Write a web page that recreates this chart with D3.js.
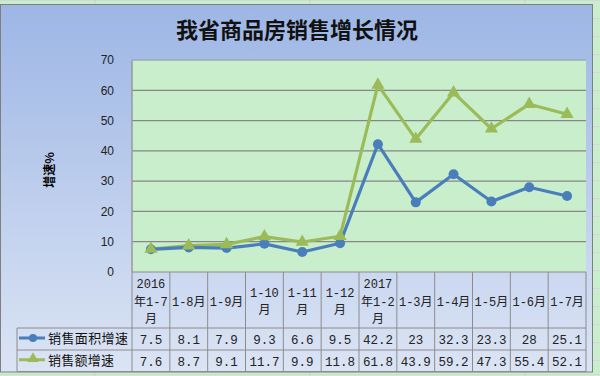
<!DOCTYPE html>
<html><head><meta charset="utf-8">
<script src="https://cdn.jsdelivr.net/npm/d3@7"></script>
<style>body{margin:0;background:#c9eecd;}svg{display:block}</style>
</head><body>
<svg id="c" width="600" height="376"></svg>
<script>
const categories = ["2016\n年1-7\n月","1-8月","1-9月","1-10\n月","1-11\n月","1-12\n月","2017\n年1-2\n月","1-3月","1-4月","1-5月","1-6月","1-7月"];
const areaGrowth = [7.5,8.1,7.9,9.3,6.6,9.5,42.2,23,32.3,23.3,28,25.1];
const salesGrowth = [7.6,8.7,9.1,11.7,9.9,11.8,61.8,43.9,59.2,47.3,55.4,52.1];
const areaLabels = ["7.5","8.1","7.9","9.3","6.6","9.5","42.2","23","32.3","23.3","28","25.1"];
const salesLabels = ["7.6","8.7","9.1","11.7","9.9","11.8","61.8","43.9","59.2","47.3","55.4","52.1"];
const seriesNames = ["销售面积增速","销售额增速"];
const yTicks = [0,10,20,30,40,50,60,70];
const title = "我省商品房销售增长情况";
const yTitle = "增速%";

const svg = d3.select("#c");
const L = 132, R = 586, T = 60, B = 272;
const cjk = "'Noto Sans CJK SC', sans-serif";
const mono = "'Liberation Mono', 'DejaVu Sans Mono', monospace";

// spreadsheet background grid
const bg = svg.append("g");
[0,18,36,54,72,90,108,126,144,162,180,198,216,234,252,270,288,306,324,342,360,374].forEach(y=>{
  bg.append("line").attr("x1",0).attr("x2",600).attr("y1",y+0.5).attr("y2",y+0.5).attr("stroke","#d9c9d6").attr("stroke-width",0.6);
});
[95,310,525].forEach(x=>bg.append("line").attr("x1",x).attr("x2",x).attr("y1",0).attr("y2",376).attr("stroke","#c8c8c8").attr("stroke-width",0.6));

// chart background gradient
const defs = svg.append("defs");
const grad = defs.append("linearGradient").attr("id","bgG").attr("x1",0).attr("y1",0).attr("x2",0).attr("y2",1);
grad.append("stop").attr("offset","0%").attr("stop-color","#9db6e5");
grad.append("stop").attr("offset","100%").attr("stop-color","#dbe4f4");
svg.append("rect").attr("x",0.5).attr("y",4.5).attr("width",592).attr("height",367.5)
  .attr("fill","url(#bgG)").attr("stroke","#7f7f7f").attr("stroke-width",1);

// title
svg.append("text").attr("x",297).attr("y",38).attr("text-anchor","middle")
  .attr("font-family",cjk).attr("font-size",22).attr("font-weight",700).attr("fill","#111").text(title);

// scales
const x = d3.scaleBand().domain(d3.range(categories.length)).range([L,R]);
const y = d3.scaleLinear().domain([0,70]).range([B,T]);

// plot area
svg.append("rect").attr("x",L).attr("y",T).attr("width",R-L).attr("height",B-T).attr("fill","#c8eecc");
// gridlines
svg.append("g").selectAll("line").data(yTicks.filter(d=>d>0)).join("line")
  .attr("x1",L).attr("x2",R).attr("y1",d=>y(d)).attr("y2",d=>y(d))
  .attr("stroke","#868686").attr("stroke-width",1.2);
// plot border (left and top faint)
svg.append("line").attr("x1",L).attr("x2",L).attr("y1",T).attr("y2",B).attr("stroke","#9a9a9a").attr("stroke-width",1.5);
svg.append("line").attr("x1",L).attr("x2",R).attr("y1",T).attr("y2",T).attr("stroke","#a8b8cc").attr("stroke-width",1);

// y axis
const yAxis = d3.axisLeft(y).tickValues(yTicks).tickSize(0).tickPadding(18);
const ya = svg.append("g").attr("transform",`translate(${L},0)`).call(yAxis);
ya.select(".domain").remove();
ya.selectAll("text").attr("font-family","'Liberation Sans', Arial, sans-serif").attr("font-size",12).attr("fill","#222");

// y title
svg.append("text").attr("transform","translate(54,170) rotate(-90)").attr("text-anchor","middle")
  .attr("font-family",cjk).attr("font-size",12).attr("font-weight",700).attr("fill","#000").text(yTitle);

// lines
const cx = i => x(i)+x.bandwidth()/2;
const line = d3.line().x((d,i)=>cx(i)).y(d=>y(d));
svg.append("path").datum(salesGrowth).attr("d",line).attr("fill","none").attr("stroke","#9bbb59").attr("stroke-width",3.2).attr("stroke-linejoin","round");
svg.append("path").datum(areaGrowth).attr("d",line).attr("fill","none").attr("stroke","#4a7ebb").attr("stroke-width",3.2).attr("stroke-linejoin","round");
svg.append("g").selectAll("circle").data(areaGrowth).join("circle")
  .attr("cx",(d,i)=>cx(i)).attr("cy",d=>y(d)).attr("r",5).attr("fill","#4a7ebb");
const tri = d3.symbol().type(d3.symbolTriangle).size(75);
svg.append("g").selectAll("path").data(salesGrowth).join("path")
  .attr("d",tri).attr("transform",(d,i)=>`translate(${cx(i)},${y(d)})`).attr("fill","#9bbb59");

// data table
const rowTop = 272, row1 = 328, row2 = 350, rowBot = 371.5, legL = 17;
const tg = svg.append("g");
const gs = {stroke:"#8c8c8c","stroke-width":1};
function ln(x1,y1,x2,y2){const l=tg.append("line").attr("x1",x1).attr("y1",y1).attr("x2",x2).attr("y2",y2);Object.entries(gs).forEach(([k,v])=>l.attr(k,v));}
ln(L,rowTop,R,rowTop);
ln(legL,row1,R,row1);
ln(legL,row2,R,row2);
ln(legL,rowBot,R,rowBot);
ln(legL,row1,legL,rowBot);
x.domain().forEach(i=>ln(x(i),rowTop,x(i),rowBot));
ln(R,rowTop,R,rowBot);

// category labels
categories.forEach((c,i)=>{
  const lines = c.split("\n");
  const lh = 17.5;
  const mid = (rowTop+row1)/2+1;
  const t = tg.append("text").attr("text-anchor","middle").attr("font-family",mono+", "+cjk).attr("font-size",12).attr("fill","#222");
  lines.forEach((s,k)=>{
    t.append("tspan").attr("x",cx(i)).attr("y",mid + (k-(lines.length-1)/2)*lh + 4.5).text(s);
  });
});
// values
[areaLabels,salesLabels].forEach((arr,r)=>{
  const yy = r===0 ? (row1+row2)/2+5 : (row2+rowBot)/2+5;
  arr.forEach((v,i)=>tg.append("text").attr("x",cx(i)).attr("y",yy).attr("text-anchor","middle")
    .attr("font-family",mono).attr("font-size",12.5).attr("fill","#222").text(v));
});
// legend keys
const k1 = (row1+row2)/2-1, k2 = (row2+rowBot)/2-1;
tg.append("line").attr("x1",19).attr("x2",45).attr("y1",k1).attr("y2",k1).attr("stroke","#4a7ebb").attr("stroke-width",3);
tg.append("circle").attr("cx",33).attr("cy",k1).attr("r",4).attr("fill","#4a7ebb");
tg.append("line").attr("x1",19).attr("x2",45).attr("y1",k2).attr("y2",k2).attr("stroke","#9bbb59").attr("stroke-width",3);
tg.append("path").attr("d",d3.symbol().type(d3.symbolTriangle).size(55)).attr("transform",`translate(33,${k2-1})`).attr("fill","#9bbb59");
seriesNames.forEach((s,r)=>{
  tg.append("text").attr("x",48).attr("y",(r===0?k1:k2)+5).attr("font-family",cjk).attr("font-size",13).attr("fill","#111")
    .attr("textLength", r===0?80:66).text(s);
});
</script>
</body></html>
